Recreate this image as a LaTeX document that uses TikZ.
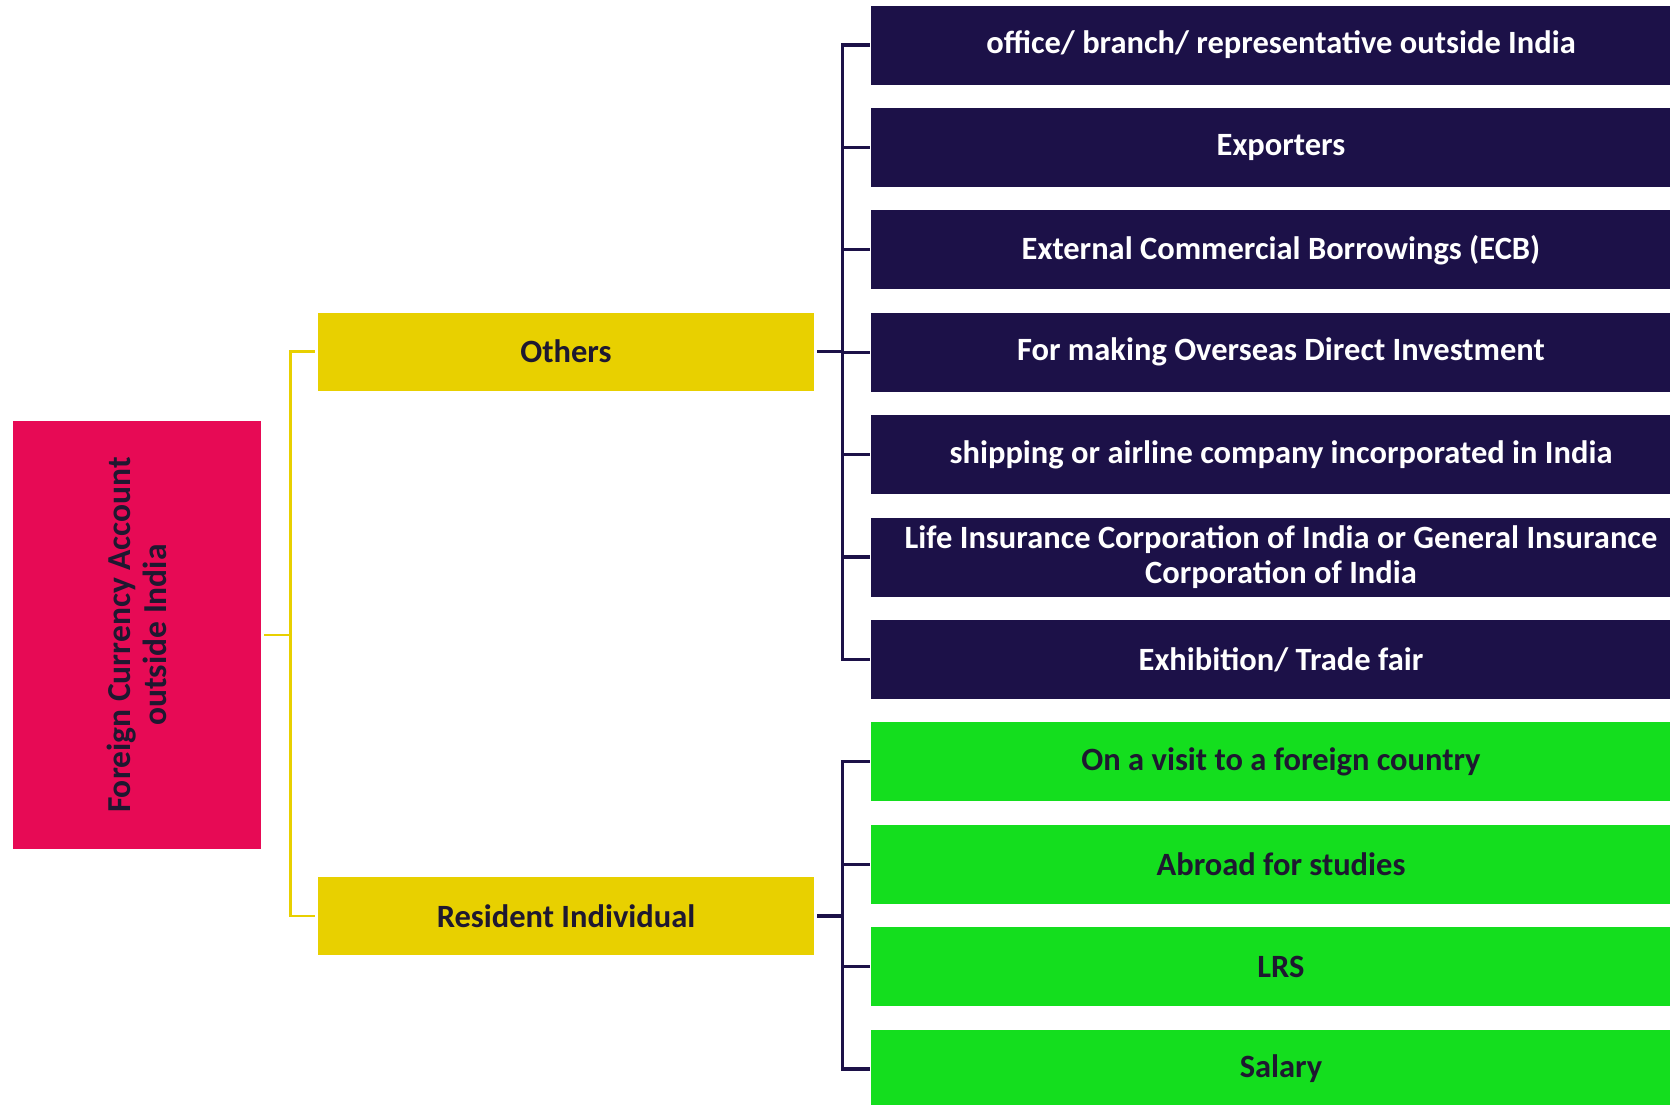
\documentclass[tikz,border=0pt]{standalone}
\usepackage{fontspec}
\setmainfont{Carlito}
\definecolor{rootred}{HTML}{E70A55}
\definecolor{midyellow}{HTML}{E8D000}
\definecolor{navy}{HTML}{1C1148}
\definecolor{leafgreen}{HTML}{14DE1E}
\definecolor{inkdark}{HTML}{1E1830}
\begin{document}
\begin{tikzpicture}[x=1pt,y=-1pt,
  every node/.style={font=\fontsize{32.5}{35}\selectfont\bfseries, inner sep=0pt, align=center},
  rootbox/.style={fill=rootred, text=inkdark, minimum width=248pt, minimum height=428pt},
  midbox/.style={fill=midyellow, text=inkdark, minimum width=496pt, minimum height=78pt},
  navybox/.style={fill=navy, text=white, minimum width=820pt, minimum height=79pt},
  greenbox/.style={fill=leafgreen, text=inkdark, minimum width=820pt, minimum height=79pt},
  ylink/.style={draw=midyellow, line width=2.6pt, shorten <=3pt, shorten >=3pt},
  nlink/.style={draw=navy, line width=3.2pt, shorten <=3pt, shorten >=1pt}]
\clip (0,0) rectangle (1670,1104);
\fill[white] (0,0) rectangle (1670,1104);

% root of the tree
\node[rootbox] (root) at (137,635) {};
\node[rotate=90, text=inkdark, font=\fontsize{33.5}{36}\selectfont\bfseries] (roottxt) at (137,635) {Foreign Currency Account\\outside India};

% second level
\node[midbox] (oth) at (566,351.5) {Others};
\node[midbox] (res) at (566,916) {Resident Individual};

% leaves under "Others"
\node[navybox] (c1) at (1281,45) {office/ branch/ representative outside India};
\node[navybox] (c2) at (1281,147.4) {Exporters};
\node[navybox] (c3) at (1281,249.8) {External Commercial Borrowings (ECB)};
\node[navybox] (c4) at (1281,352.2) {For making Overseas Direct Investment};
\node[navybox] (c5) at (1281,454.6) {shipping or airline company incorporated in India};
\node[navybox] (c6) at (1281,557) {Life Insurance Corporation of India or General Insurance\\Corporation of India};
\node[navybox] (c7) at (1281,659.4) {Exhibition/ Trade fair};

% leaves under "Resident Individual"
\node[greenbox] (g1) at (1281,761.8) {On a visit to a foreign country};
\node[greenbox] (g2) at (1281,864.2) {Abroad for studies};
\node[greenbox] (g3) at (1281,966.6) {LRS};
\node[greenbox] (g4) at (1281,1069) {Salary};

% connectors
\foreach \t in {oth,res}
  \draw[ylink] (root.east) -- ++(29,0) |- (\t.west);
\foreach \t in {c1,c2,c3,c4,c5,c6,c7}
  \draw[nlink] (oth.east) -- ++(28,0) |- (\t.west);
\foreach \t in {g1,g2,g3,g4}
  \draw[nlink] (res.east) -- ++(28,0) |- (\t.west);
\end{tikzpicture}
\end{document}
